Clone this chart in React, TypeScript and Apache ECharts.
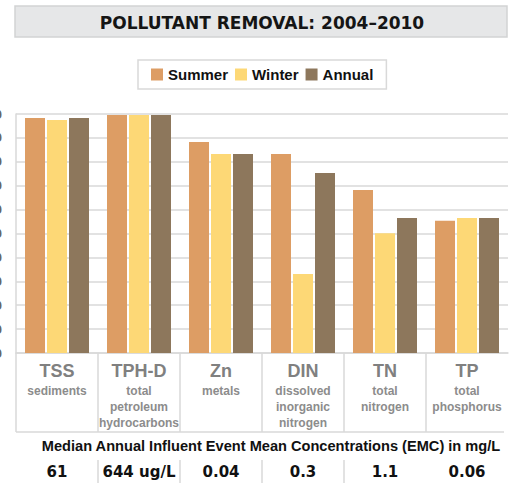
import React, { useEffect, useRef } from "react";
import * as echarts from "echarts";

const categories = ["TSS", "TPH-D", "Zn", "DIN", "TN", "TP"];
const descriptions = [
  ["sediments"],
  ["total", "petroleum", "hydrocarbons"],
  ["metals"],
  ["dissolved", "inorganic", "nitrogen"],
  ["total", "nitrogen"],
  ["total", "phosphorus"],
];
const summer = [98.3, 99.6, 88.3, 83.3, 68.2, 55.3];
const winter = [97.5, 99.6, 83.3, 33.1, 50.1, 56.5];
const annual = [98.3, 99.6, 83.3, 75.3, 56.5, 56.5];
const influent = ["61", "644 ug/L", "0.04", "0.3", "1.1", "0.06"];
const yTicks = { min: 0, max: 100, interval: 10 };
const titleText = "POLLUTANT REMOVAL: 2004\u20132010";
const footnote = "Median Annual Influent Event Mean Concentrations (EMC) in mg/L";

const W = 514;
const H = 483;
const GRID_LEFT = 16;
const GRID_RIGHT = 6;
const GRID_TOP = 114;
const GRID_BOTTOM = 130;
const LINE = "#d9d9d9";
const FONT = "'Liberation Sans', Arial, sans-serif";

export default function App() {
  const ref = useRef<HTMLDivElement>(null);
  useEffect(() => {
    if (!ref.current) return;
    const chart = echarts.init(ref.current, undefined, { renderer: "svg" });
    const gridW = W - GRID_LEFT - GRID_RIGHT;
    const band = gridW / categories.length;
    const axisY = H - GRID_BOTTOM;
    const sepBottom = 432;
    const graphics: any[] = [
      {
        type: "rect",
        shape: { x: 15, y: 6, width: 492, height: 31 },
        style: { fill: "#e6e7e8", stroke: "#d2d3d4", lineWidth: 1.5 },
        silent: true,
      },
      {
        type: "text",
        x: 262,
        y: 23,
        style: {
          text: titleText,
          fill: "#151515",
          font: "bold 17px 'DejaVu Sans', sans-serif",
          textAlign: "center",
          textVerticalAlign: "middle",
        },
      },
      ...Array.from({ length: categories.length }, (_, i) => ({
        type: "line",
        shape: { x1: GRID_LEFT + band * i, y1: axisY, x2: GRID_LEFT + band * i, y2: sepBottom },
        style: { stroke: LINE, lineWidth: 1.5 },
      })),
      {
        type: "line",
        shape: { x1: GRID_LEFT, y1: sepBottom, x2: GRID_LEFT + gridW - 4, y2: sepBottom },
        style: { stroke: LINE, lineWidth: 1.5 },
      },
      {
        type: "text",
        x: 271,
        y: 446,
        style: {
          text: footnote,
          fill: "#111",
          font: "bold 14.6px " + FONT,
          textAlign: "center",
          textVerticalAlign: "middle",
        },
      },
      ...[1, 2, 3, 4].map((i) => ({
        type: "line",
        shape: { x1: GRID_LEFT + band * i, y1: 460, x2: GRID_LEFT + band * i, y2: H },
        style: { stroke: LINE, lineWidth: 1.5 },
      })),
    ];

    chart.setOption({
      animation: false,
      color: ["#dd9d64", "#fdd876", "#8d775c"],
      legend: {
        data: ["Summer", "Winter", "Annual"],
        top: 60,
        left: 138,
        icon: "rect",
        itemWidth: 12,
        itemHeight: 12,
        itemGap: 7,
        padding: [7, 13, 7, 13],
        borderColor: "#d9d9d9",
        borderWidth: 1.5,
        textStyle: { fontFamily: FONT, fontWeight: "bold", fontSize: 15, color: "#111" },
      },
      grid: {
        left: GRID_LEFT,
        right: GRID_RIGHT,
        top: GRID_TOP,
        bottom: GRID_BOTTOM,
        containLabel: false,
        outerBoundsMode: "none",
      },
      xAxis: [
        {
          type: "category",
          data: categories,
          axisLine: { lineStyle: { color: LINE, width: 1.5 } },
          axisTick: { show: false },
          axisLabel: {
            margin: 6,
            interval: 0,
            formatter: (v: string, i: number) =>
              `{a|${v}}\n` + descriptions[i].map((d) => `{b|${d}}`).join("\n"),
            rich: {
              a: { fontFamily: FONT, fontWeight: "bold", fontSize: 18, color: "#808080", lineHeight: 24 },
              b: { fontFamily: FONT, fontWeight: "bold", fontSize: 12, color: "#8c8c8c", lineHeight: 16 },
            },
          },
        },
        {
          type: "category",
          position: "bottom",
          data: influent,
          axisLine: { show: false },
          axisTick: { show: false },
          axisLabel: {
            margin: 111,
            interval: 0,
            fontFamily: "'DejaVu Sans', sans-serif",
            fontWeight: "bold",
            fontSize: 15,
            color: "#111",
          },
        },
      ],
      yAxis: {
        type: "value",
        min: yTicks.min,
        max: yTicks.max,
        interval: yTicks.interval,
        axisLine: { show: true, lineStyle: { color: LINE, width: 1.5 } },
        axisTick: { show: false },
        splitLine: { lineStyle: { color: LINE, width: 1.5 } },
        axisLabel: { margin: 14, fontFamily: FONT, fontWeight: "bold", fontSize: 13, color: "#666" },
      },
      series: [
        { name: "Summer", type: "bar", data: summer, barWidth: 20, barGap: "10%" },
        { name: "Winter", type: "bar", data: winter, barWidth: 20, barGap: "10%" },
        { name: "Annual", type: "bar", data: annual, barWidth: 20, barGap: "10%" },
      ],
      graphic: graphics,
    });
    return () => chart.dispose();
  }, []);
  return (
    <div
      ref={ref}
      style={{ position: "absolute", left: 0, top: 0, width: W, height: H, background: "#fff" }}
    />
  );
}
